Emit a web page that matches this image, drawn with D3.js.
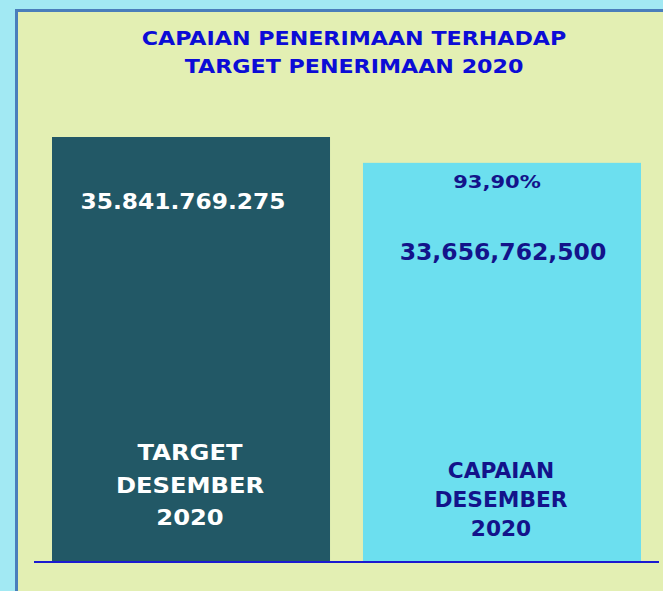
<!DOCTYPE html>
<html>
<head>
<meta charset="utf-8">
<script src="https://cdn.jsdelivr.net/npm/d3@7/dist/d3.min.js"></script>
<style>
  html, body { margin: 0; padding: 0; background: #a2e9f3; }
  svg { display: block; }
  text { font-family: "DejaVu Sans", sans-serif; font-weight: 700; }
</style>
</head>
<body>
<svg id="chart" width="663" height="591"></svg>
<script>
// Data
const categories = ["TARGET DESEMBER 2020", "CAPAIAN DESEMBER 2020"];
const values = [35841769275, 33656762500];
const valueLabels = ["35.841.769.275", "33,656,762,500"];
const percentLabel = "93,90%";
const titleLines = ["CAPAIAN PENERIMAAN TERHADAP", "TARGET PENERIMAAN 2020"];

const W = 663, H = 591;
const svg = d3.select("#chart");

// Centered label, slightly widened horizontally
function label(parent, txt, cx, y, size, fill, sx) {
  return parent.append("text")
    .attr("transform", `translate(${cx},${y}) scale(${sx},1)`)
    .attr("text-anchor", "middle")
    .attr("font-size", size)
    .attr("fill", fill)
    .text(txt);
}

// Framed panel
svg.append("rect")
  .attr("x", 16.5).attr("y", 10.5)
  .attr("width", W + 20).attr("height", H + 20)
  .attr("fill", "#e3efb3")
  .attr("stroke", "#4a7ebb").attr("stroke-width", 3);

// Scales
const x = d3.scaleBand()
  .domain(categories)
  .range([52, 641])
  .paddingInner(0.106)
  .paddingOuter(0);

const y = d3.scaleLinear()
  .domain([0, values[0]])
  .range([561, 137]);

// Title
const gTitle = svg.append("g");
titleLines.forEach((t, i) => label(gTitle, t, 354, 45 + i * 28, 20, "#0c0cd6", 1.11));

const barColors = ["#225866", "#6cdfef"];
const textColors = ["#ffffff", "#13138a"];

// Bars
svg.append("g").selectAll("rect")
  .data(values)
  .join("rect")
  .attr("x", (d, i) => x(categories[i]))
  .attr("y", d => y(d))
  .attr("width", x.bandwidth())
  .attr("height", d => y(0) - y(d))
  .attr("fill", (d, i) => barColors[i]);

// Baseline
svg.append("line")
  .attr("x1", 34).attr("x2", 659)
  .attr("y1", y(0) + 1).attr("y2", y(0) + 1)
  .attr("stroke", "#1a1ad0").attr("stroke-width", 2);

const cx = i => x(categories[i]) + x.bandwidth() / 2;

// Value labels
const gVal = svg.append("g");
label(gVal, valueLabels[0], cx(0) - 8, y(values[0]) + 72, 21, textColors[0], 1.11);
label(gVal, valueLabels[1], cx(1) + 1, y(values[1]) + 97, 23.5, textColors[1], 1.0);

// Achievement percentage
label(gVal, percentLabel, cx(1) - 5, y(values[1]) + 25, 18, textColors[1], 1.17);

// Category labels inside bars
const catBase = [460, 478];
const catStep = [32.5, 29];
const catSize = [22, 20.5];
const catStretch = [1.1, 1.06];
categories.forEach((c, i) => {
  const g = svg.append("g");
  c.split(" ").forEach((w, j) =>
    label(g, w, cx(i) - (i === 0 ? 1 : 1), catBase[i] + j * catStep[i], catSize[i], textColors[i], catStretch[i]));
});
</script>
</body>
</html>
